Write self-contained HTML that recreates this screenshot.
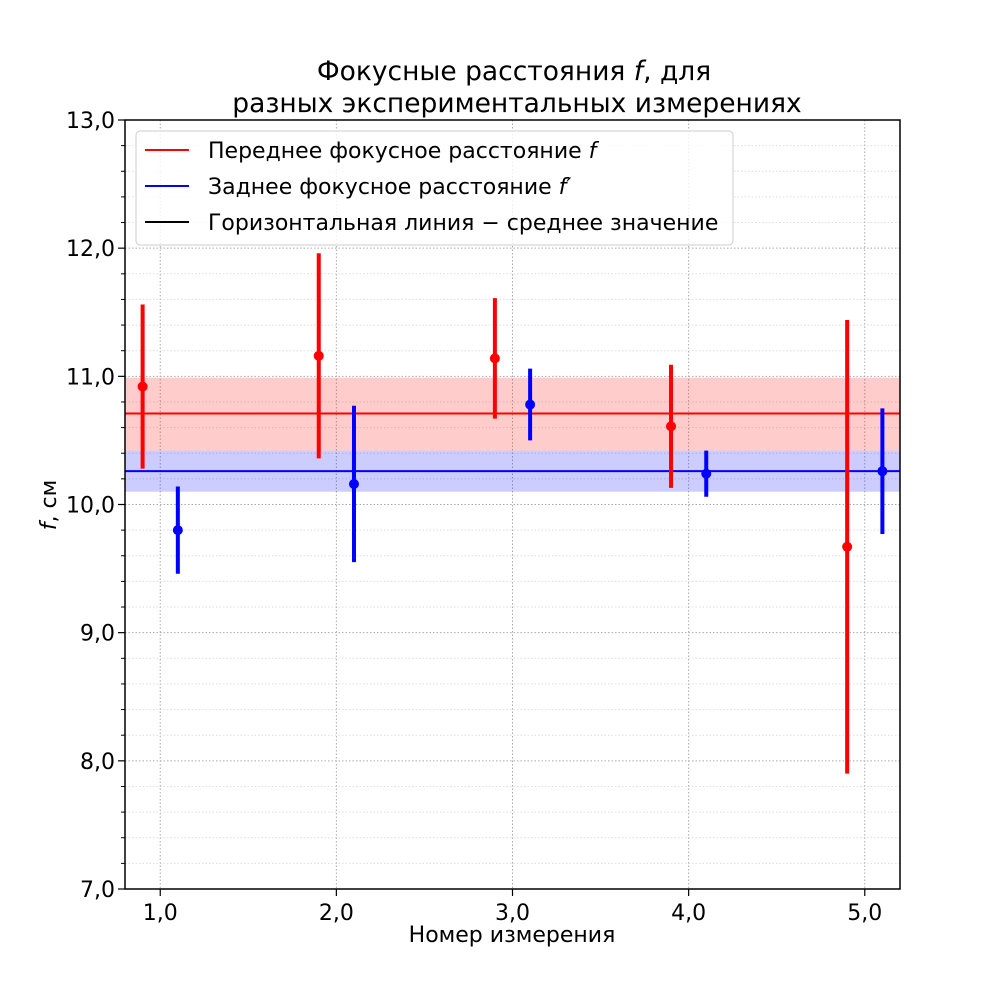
<!DOCTYPE html>
<html><head><meta charset="utf-8"><style>body{margin:0;background:#fff}svg{font-family:"DejaVu Sans","Liberation Sans",sans-serif}</style></head>
<body>
<svg id="chart" width="1000" height="1000" xmlns="http://www.w3.org/2000/svg"></svg>
<script>
const redX=[0.9,1.9,2.9,3.9,4.9];
const redY=[10.92,11.16,11.14,10.61,9.67];
const redErr=[0.64,0.80,0.47,0.48,1.77];
const blueX=[1.1,2.1,3.1,4.1,5.1];
const blueY=[9.80,10.16,10.78,10.24,10.26];
const blueErr=[0.34,0.61,0.28,0.18,0.49];
const redMean=10.71, redBand=[10.42,10.99];
const blueMean=10.26, blueBand=[10.10,10.42];
const xTicks=[1,2,3,4,5];
const yTicks=[7,8,9,10,11,12,13];
const L=125,R=900,T=120,B=889;
const sx=v=>L+(v-0.8)/(4.4)*(R-L);
const sy=v=>B-(v-7)/6*(B-T);
const svg=document.getElementById('chart');
const NS='http://www.w3.org/2000/svg';
function mk(tag,attrs,parent){const e=document.createElementNS(NS,tag);for(const k in attrs)e.setAttribute(k,attrs[k]);(parent||svg).appendChild(e);return e;}
const fmt=v=>v.toFixed(1).replace('.',',');
for(let v=7.2;v<13;v+=0.2){if(Math.abs(v-Math.round(v))<0.01)continue;
 const g=mk('line',{x1:L,x2:R,y1:sy(v),y2:sy(v),stroke:'#ddd','stroke-dasharray':'1.5,2','stroke-width':1});
 
 const t=mk('line',{x1:L-4,x2:L,y1:sy(v),y2:sy(v),stroke:'#000','stroke-width':1});
 }
yTicks.forEach(v=>{const g=mk('line',{x1:L,x2:R,y1:sy(v),y2:sy(v),stroke:'#aaa','stroke-dasharray':'1.5,2','stroke-width':1});
 
 const t=mk('line',{x1:L-7,x2:L,y1:sy(v),y2:sy(v),stroke:'#000','stroke-width':1.2});
 
 const tx=mk('text',{x:L-10,y:sy(v)+8,'text-anchor':'end','font-size':22});tx.textContent=fmt(v);
 });
xTicks.forEach(v=>{const g=mk('line',{x1:sx(v),x2:sx(v),y1:T,y2:B,stroke:'#aaa','stroke-dasharray':'1.5,2','stroke-width':1});
 
 const t=mk('line',{x1:sx(v),x2:sx(v),y1:B,y2:B+7,stroke:'#000','stroke-width':1.2});
 
 const tx=mk('text',{x:sx(v),y:B+31,'text-anchor':'middle','font-size':22});tx.textContent=fmt(v);
 });
const rb=mk('rect',{x:L,width:R-L,y:sy(redBand[1]),height:sy(redBand[0])-sy(redBand[1]),fill:'rgba(255,0,0,0.2)'});

const bb=mk('rect',{x:L,width:R-L,y:sy(blueBand[1]),height:sy(blueBand[0])-sy(blueBand[1]),fill:'rgba(0,0,255,0.2)'});

const rm=mk('line',{x1:L,x2:R,y1:sy(redMean),y2:sy(redMean),stroke:'#f00','stroke-width':2});

const bm=mk('line',{x1:L,x2:R,y1:sy(blueMean),y2:sy(blueMean),stroke:'#00f','stroke-width':2});

function series(xs,ys,es,col,name){xs.forEach((x,i)=>{
 const l=mk('line',{x1:sx(x),x2:sx(x),y1:sy(ys[i]+es[i]),y2:sy(ys[i]-es[i]),stroke:col,'stroke-width':4});
 
 const c=mk('circle',{cx:sx(x),cy:sy(ys[i]),r:5,fill:col});
 });}
series(redX,redY,redErr,'#f00','red');
series(blueX,blueY,blueErr,'#00f','blue');
const fr=mk('rect',{x:L,y:T,width:R-L,height:B-T,fill:'none',stroke:'#000','stroke-width':1.5});

</script>
<svg style="position:absolute;left:0;top:0" width="1000" height="1000" xmlns="http://www.w3.org/2000/svg" font-family="DejaVu Sans, Liberation Sans, sans-serif">
<text x="514" y="80" text-anchor="middle" font-size="26.5">Фокусные расстояния <tspan font-style="italic">f</tspan>, для</text>
<text x="517" y="112" text-anchor="middle" font-size="26.5">разных экспериментальных измерениях</text>
<text x="512" y="942" text-anchor="middle" font-size="22">Номер измерения</text>
<text transform="translate(56,505) rotate(-90)" text-anchor="middle" font-size="22"><tspan font-style="italic">f</tspan>, см</text>
<g>
<rect x="136" y="131" width="597" height="114" rx="4" fill="#fff" fill-opacity="0.8" stroke="#ccc"/>
<line x1="145" x2="189" y1="150" y2="150" stroke="#f00" stroke-width="2"/>
<text x="208" y="158" font-size="22">Переднее фокусное расстояние <tspan font-style="italic">f</tspan></text>
<line x1="145" x2="189" y1="186" y2="186" stroke="#00f" stroke-width="2"/>
<text x="208" y="194" font-size="22">Заднее фокусное расстояние <tspan font-style="italic">f′</tspan></text>
<line x1="145" x2="189" y1="222" y2="222" stroke="#000" stroke-width="2"/>
<text x="208" y="230" font-size="22">Горизонтальная линия − среднее значение</text>
</g>
</svg>
</body></html>
